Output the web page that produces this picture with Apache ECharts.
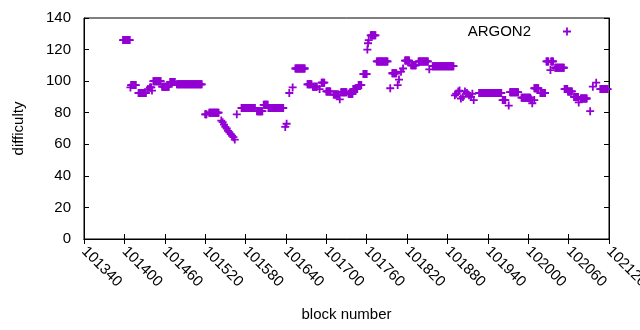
<!DOCTYPE html>
<html>
<head>
<meta charset="utf-8">
<script src="https://cdn.jsdelivr.net/npm/echarts@6/dist/echarts.min.js"></script>
<style>
  html, body { margin: 0; padding: 0; background: #fff; }
  #chart { width: 640px; height: 330px; }
</style>
</head>
<body>
<div id="chart"></div>
<script>
// runs of blocks sharing one difficulty value
var runStart = [
  101398, 101409, 101410, 101421, 101435, 101438, 101441, 101443, 101456, 101468,
  101478, 101520, 101526, 101544, 101546, 101548, 101550, 101552, 101554, 101556,
  101558, 101560, 101562, 101564, 101567, 101574, 101597, 101607, 101614, 101639,
  101641, 101645, 101650, 101654, 101672, 101680, 101690, 101693, 101700, 101711,
  101720, 101722, 101733, 101740, 101748, 101755, 101761, 101762, 101763, 101766,
  101775, 101795, 101798, 101806, 101808, 101811, 101814, 101817, 101826, 101837,
  101853, 101858, 101891, 101893, 101896, 101898, 101900, 101903, 101906, 101909,
  101912, 101915, 101917, 101919, 101927, 101962, 101971, 101973, 101990, 102004,
  102006, 102009, 102009, 102018, 102027, 102033, 102034, 102040, 102054, 102059,
  102068, 102075, 102078, 102092, 102096, 102101, 102107
];
var runEnd = [
  101408, 101409, 101417, 101432, 101435, 101440, 101441, 101454, 101466, 101475,
  101515, 101522, 101540, 101544, 101546, 101548, 101550, 101552, 101554, 101556,
  101558, 101560, 101562, 101564, 101567, 101594, 101605, 101613, 101636, 101639,
  101641, 101645, 101650, 101668, 101678, 101686, 101690, 101697, 101706, 101718,
  101720, 101730, 101739, 101746, 101752, 101760, 101761, 101762, 101763, 101773,
  101791, 101795, 101804, 101806, 101808, 101811, 101814, 101823, 101833, 101851,
  101853, 101889, 101891, 101893, 101896, 101898, 101900, 101903, 101906, 101909,
  101912, 101915, 101917, 101919, 101960, 101966, 101971, 101985, 102003, 102004,
  102006, 102015, 102009, 102025, 102030, 102033, 102037, 102053, 102058, 102065,
  102074, 102075, 102087, 102092, 102096, 102101, 102118
];
var runDifficulty = [
  126, 96, 97.5, 92.5, 95, 96, 94, 100, 96.5, 99.5,
  98, 79, 80, 75, 74, 72.5, 71, 70, 68.5, 67.5,
  66.5, 65.5, 64.5, 63, 79, 83, 81, 85, 83, 71,
  73, 92.5, 96, 108, 98, 96.5, 95, 99, 93.5, 91.5,
  88.5, 93, 92, 95, 97.5, 104.5, 120, 124, 126, 129,
  112.5, 95.5, 105, 97.5, 101, 106, 108, 113, 110, 112.5,
  107.5, 109.5, 91, 92, 93.5, 94, 89, 90, 93.5, 92.5,
  91, 90, 92, 88, 92.5, 88, 84.5, 93, 89.5, 88.5,
  86, 95.5, 88, 92.5, 112.5, 107, 112.5, 108.5, 95, 93.5,
  90, 86.5, 89, 81, 96.5, 99, 95
];

var xMin = 101340, xMax = 102120, xStep = 60;
var yMin = 0, yMax = 140, yStep = 20;

var points = [];
for (var i = 0; i < runStart.length; i++) {
  for (var b = runStart[i]; b <= runEnd[i]; b++) {
    points.push([b, runDifficulty[i]]);
  }
}

var plus = 'path://M3.1,0H4.9V3.1H8V4.9H4.9V8H3.1V4.9H0V3.1H3.1Z';
var font = 'Liberation Sans';
var black = '#000';

var myChart = echarts.init(document.getElementById('chart'));
myChart.setOption({
  animation: false,
  backgroundColor: '#fff',
  textStyle: { fontFamily: font },
  grid: {
    left: 84, right: 31, top: 18, bottom: 91,
    outerBoundsMode: 'none',
    containLabel: false,
    show: true, borderColor: black, borderWidth: 1
  },
  legend: {
    data: [{ name: 'ARGON2', icon: plus }],
    right: 69, top: 24, padding: 0,
    align: 'right',
    itemWidth: 8, itemHeight: 8,
    textStyle: { fontFamily: font, fontSize: 15, color: black, padding: [0, 27, 0, 0] }
  },
  xAxis: [{
    type: 'value', min: xMin, max: xMax, interval: xStep,
    position: 'bottom',
    name: 'block number', nameLocation: 'middle', nameGap: 68,
    nameTextStyle: { fontFamily: font, fontSize: 15, color: black },
    axisLine: { lineStyle: { color: black } },
    axisTick: { inside: true, length: 5, lineStyle: { color: black } },
    axisLabel: {
      rotate: -45, margin: 10, fontSize: 15, color: black, fontFamily: font, hideOverlap: false,
      formatter: function (v) { return String(v); }
    },
    splitLine: { show: false }
  }, {
    type: 'value', min: xMin, max: xMax, interval: xStep,
    position: 'top',
    axisLine: { lineStyle: { color: black } },
    axisTick: { inside: true, length: 5, lineStyle: { color: black } },
    axisLabel: { show: false },
    splitLine: { show: false }
  }],
  yAxis: [{
    type: 'value', min: yMin, max: yMax, interval: yStep,
    position: 'left',
    name: 'difficulty', nameLocation: 'middle', nameGap: 58, nameRotate: 90,
    nameTextStyle: { fontFamily: font, fontSize: 15, color: black },
    axisLine: { show: true, lineStyle: { color: black } },
    axisTick: { show: true, inside: true, length: 5, lineStyle: { color: black } },
    axisLabel: { margin: 13, fontSize: 15, color: black, fontFamily: font },
    splitLine: { show: false }
  }, {
    type: 'value', min: yMin, max: yMax, interval: yStep,
    position: 'right',
    axisLine: { show: true, lineStyle: { color: black } },
    axisTick: { show: true, inside: true, length: 5, lineStyle: { color: black } },
    axisLabel: { show: false },
    splitLine: { show: false }
  }],
  series: [{
    name: 'ARGON2',
    type: 'scatter',
    xAxisIndex: 0, yAxisIndex: 0,
    symbol: plus,
    symbolSize: 8,
    itemStyle: { color: '#9400d3', opacity: 1 },
    emphasis: { disabled: true },
    data: points
  }]
});
</script>
</body>
</html>
